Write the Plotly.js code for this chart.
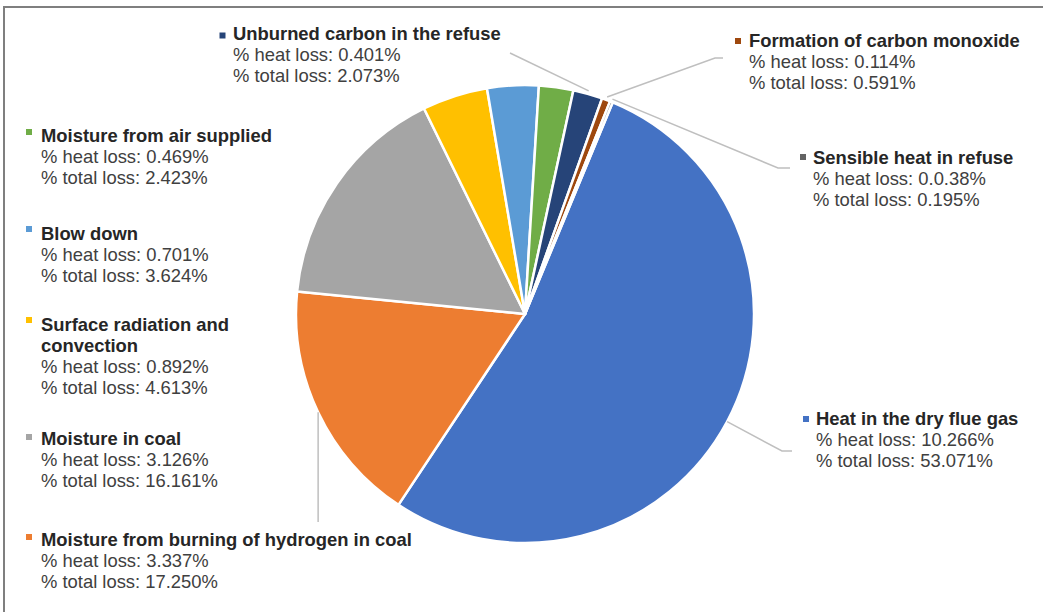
<!DOCTYPE html>
<html>
<head>
<meta charset="utf-8">
<script src="https://cdn.plot.ly/plotly-3.0.1.min.js"></script>
<style>html,body{margin:0;padding:0;background:#fff;}#chart{width:1043px;height:612px;}</style>
</head>
<body>
<div id="chart"></div>
<script>
// ---- data ----
var categories = ['Heat in the dry flue gas', 'Moisture from burning of hydrogen in coal', 'Moisture in coal',
  'Surface radiation and convection', 'Blow down', 'Moisture from air supplied',
  'Unburned carbon in the refuse', 'Formation of carbon monoxide', 'Sensible heat in refuse'];
var labelNames = [['Heat in the dry flue gas'], ['Moisture from burning of hydrogen in coal'], ['Moisture in coal'],
  ['Surface radiation and', 'convection'], ['Blow down'], ['Moisture from air supplied'],
  ['Unburned carbon in the refuse'], ['Formation of carbon monoxide'], ['Sensible heat in refuse']];
var heatLoss = ['10.266', '3.337', '3.126', '0.892', '0.701', '0.469', '0.401', '0.114', '0.0.38'];
var totalLoss = [53.071, 17.250, 16.161, 4.613, 3.624, 2.423, 2.073, 0.591, 0.195];
var colors = ['#4472C4', '#ED7D31', '#A5A5A5', '#FFC000', '#5B9BD5', '#70AD47', '#264478', '#9E480E', '#636363'];

// ---- geometry ----
var W = 1043, H = 612;
var CX = 525, CY = 314, R = 229, ROT = 22.5;
var FS = 18.4, LH = 21;
function px(x) { return x / W; }
function py(y) { return 1 - y / H; }

// slice mid angles (clockwise from 12 o'clock) computed from data
var tot = totalLoss.reduce(function (a, b) { return a + b; }, 0);
var mids = [], acc = 0;
totalLoss.forEach(function (v) { mids.push(ROT + (acc + v / 2) / tot * 360); acc += v; });
function edge(i, extra) {
  var a = mids[i] * Math.PI / 180, rr = R + (extra || 0);
  return [CX + rr * Math.sin(a), CY - rr * Math.cos(a)];
}

// label layout: [left x of text, center y of first line, marker center x, marker center y]
var labelPos = [
  [815, 418, 806, 419],
  [40, 539, 29, 537],
  [40, 438, 29, 437],
  [40, 324.5, 29, 320],
  [40, 233, 29, 229],
  [40, 135, 29, 132],
  [232, 33.5, 222.5, 35.5],
  [748, 41, 738, 41],
  [812, 157.5, 803, 157]
];

var annotations = [], shapes = [];
categories.forEach(function (c, i) {
  var p = labelPos[i];
  var lines = labelNames[i].map(function (t) { return { t: '<b>' + t + '</b>', c: '#262626' }; });
  lines.push({ t: '% heat loss: ' + heatLoss[i] + '%', c: '#404040' });
  lines.push({ t: '% total loss: ' + totalLoss[i].toFixed(3) + '%', c: '#404040' });
  lines.forEach(function (ln, k) {
    annotations.push({
      xref: 'paper', yref: 'paper', x: px(p[0]), y: py(p[1] + k * LH), xanchor: 'left', yanchor: 'middle',
      align: 'left', showarrow: false, borderpad: 0, text: ln.t,
      font: { family: 'Liberation Sans, Arial, sans-serif', size: FS, color: ln.c }
    });
  });
  shapes.push({
    type: 'rect', xref: 'paper', yref: 'paper', x0: px(p[2] - 3), x1: px(p[2] + 3),
    y0: py(p[3] - 3), y1: py(p[3] + 3), fillcolor: colors[i], line: { width: 0 }
  });
});

// leader lines
function path(pts) {
  return pts.map(function (q, k) { return (k ? 'L' : 'M') + px(q[0]) + ',' + py(q[1]); }).join(' ');
}
var lc = { color: '#BFBFBF', width: 1.5 };
var e;
e = edge(6, 3); shapes.push({ type: 'path', xref: 'paper', yref: 'paper', path: path([e, [510, 53]]), line: lc });
e = edge(7, 3); shapes.push({ type: 'path', xref: 'paper', yref: 'paper', path: path([e, [715, 58], [723, 58]]), line: lc });
e = edge(8, 3); shapes.push({ type: 'path', xref: 'paper', yref: 'paper', path: path([e, [778, 168], [790, 168]]), line: lc });
e = edge(0, 0); shapes.push({ type: 'path', xref: 'paper', yref: 'paper', path: path([e, [782, 451], [792, 451]]), line: lc });
e = edge(1, 0); shapes.push({ type: 'path', xref: 'paper', yref: 'paper', path: path([e, [e[0], 522]]), line: lc });

// frame
shapes.push({ type: 'path', xref: 'paper', yref: 'paper', path: path([[4, H + 2], [4, 7], [W + 2, 7]]),
  line: { color: '#7F7F7F', width: 2 } });

var trace = {
  type: 'pie', labels: categories, values: totalLoss, sort: false, direction: 'clockwise', rotation: ROT,
  marker: { colors: colors, line: { color: '#FFFFFF', width: 2.5 } },
  textinfo: 'none', hoverinfo: 'label+value',
  domain: { x: [px(CX - R), px(CX + R)], y: [py(CY + R), py(CY - R)] }
};

var layout = {
  width: W, height: H, margin: { l: 0, r: 0, t: 0, b: 0 }, showlegend: false,
  paper_bgcolor: '#FFFFFF', annotations: annotations, shapes: shapes
};

Plotly.newPlot('chart', [trace], layout, { staticPlot: true, displayModeBar: false });
</script>
</body>
</html>
